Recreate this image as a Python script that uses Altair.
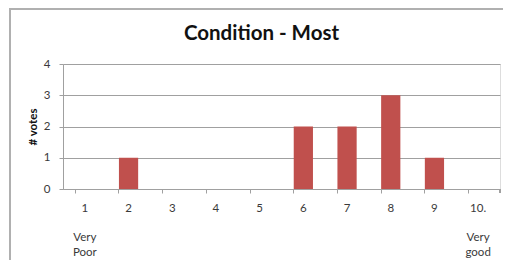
import altair as alt
import pandas as pd

categories = ["1", "2", "3", "4", "5", "6", "7", "8", "9", "10."]
votes = [0, 1, 0, 0, 0, 2, 2, 3, 1, 0]
end_labels = {"1": ["Very", "Poor"], "10.": ["Very", "good"]}
title_text = "Condition - Most"
y_title = "# votes"
y_ticks = [0, 1, 2, 3, 4]

df = pd.DataFrame({"cat": categories, "votes": votes})

parts = []
for k, v in end_labels.items():
    arr = ",".join(["'" + s + "'" for s in v])
    parts.append(f"datum.value == '{k}' ? [{arr}] : ")
end_label_expr = "".join(parts) + "''"

FONT = "Lato"
GRID = "#a0a0a0"
TXT = "#3a3a3a"

x_scale = alt.Scale(domain=categories, paddingInner=0.56, paddingOuter=0.28)
y_scale = alt.Scale(domain=[0, 4])
y_axis = alt.Axis(title=y_title, values=y_ticks, grid=True, gridColor=GRID,
                  domainColor=GRID, tickColor=GRID, tickSize=4,
                  labelFont=FONT, labelFontSize=11.5, labelColor=TXT,
                  labelPadding=9, titleFont=FONT, titleFontSize=11.5,
                  titleFontWeight="bold", titleColor="#111",
                  titlePadding=5)

bars = alt.Chart(df).mark_bar(color="#C0504D").encode(
    x=alt.X("cat:N", scale=x_scale, sort=categories,
            axis=alt.Axis(title=None, labelAngle=0, ticks=False, domain=True,
                          domainColor=GRID, orient="bottom",
                          labelFont=FONT, labelFontSize=11.5, labelColor=TXT,
                          labelPadding=13, grid=False)),
    y=alt.Y("votes:Q", scale=y_scale, axis=y_axis),
)

ticks_layer = alt.Chart(df).mark_bar(opacity=0).encode(
    x=alt.X("cat:N", scale=x_scale, sort=categories,
            axis=alt.Axis(title=None, labels=False, ticks=True, domain=False,
                          orient="bottom", bandPosition=0, tickColor=GRID,
                          tickSize=4, grid=False)),
    y=alt.Y("votes:Q", scale=y_scale, axis=y_axis),
)

end_labels_layer = alt.Chart(df).mark_bar(opacity=0).encode(
    x=alt.X("cat:N", scale=x_scale, sort=categories,
            axis=alt.Axis(title=None, ticks=False, domain=False, labelAngle=0,
                          orient="bottom", labelExpr=end_label_expr,
                          labelFont=FONT, labelFontSize=11.5, labelColor=TXT,
                          labelPadding=42, labelLineHeight=15.5,
                          labelOverlap=False, grid=False)),
    y=alt.Y("votes:Q", scale=y_scale, axis=y_axis),
)

end_tick = alt.Chart(df).mark_rule(color=GRID).encode(
    x=alt.value(437), y=alt.value(125), y2=alt.value(129)
)

frame_left = alt.Chart(df).mark_rule(color="#b0b0b0", strokeWidth=2).encode(
    x=alt.value(-53), y=alt.value(-56), y2=alt.value(200)
)
frame_top = alt.Chart(df).mark_rule(color="#b0b0b0", strokeWidth=2).encode(
    y=alt.value(-55), x=alt.value(-54), x2=alt.value(440)
)

chart = alt.layer(bars, ticks_layer, end_labels_layer, end_tick,
                  frame_left, frame_top).resolve_axis(
    x="independent"
).properties(
    width=437, height=125,
    padding={"left": 55, "top": 56, "right": 3, "bottom": 71},
    autosize=alt.AutoSizeParams(type="none"),
    title=alt.TitleParams(title_text, font=FONT, fontSize=20.5, fontWeight="bold",
                          color="#111", anchor="middle", dx=-20, offset=0, dy=37),
).configure_view(strokeWidth=0).configure(background="white")

chart.save("out.html", embed_options={"renderer": "svg", "actions": False})
